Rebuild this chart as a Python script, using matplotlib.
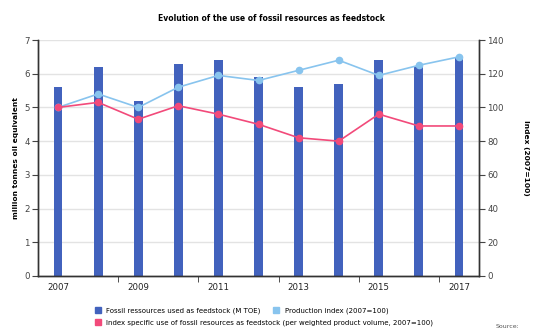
import matplotlib.pyplot as plt
import matplotlib.ticker as mticker
from matplotlib.lines import Line2D
import numpy as np

years = [2007, 2008, 2009, 2010, 2011, 2012, 2013, 2014, 2015, 2016, 2017]
feedstock_mtoe = [5.6, 6.2, 5.2, 6.3, 6.4, 5.9, 5.6, 5.7, 6.4, 6.2, 6.5]
production_index = [100, 108, 100, 112, 119, 116, 122, 128, 119, 125, 130]
specific_index = [100, 103, 93, 101, 96, 90, 82, 80, 96, 89, 89]

BAR_COLOR = "#4262bd"
PROD_COLOR = "#88c4ee"
SPEC_COLOR = "#f24a7a"
AXIS_COLOR = "#333333"

plt.rcParams["font.family"] = ["DejaVu Sans"]

fig = plt.figure(figsize=(5.42, 3.29), dpi=100)
ax = fig.add_axes([0.0701, 0.1611, 0.8137, 0.7173])
ax2 = ax.twinx()

x = np.arange(len(years))
ax.bar(x, feedstock_mtoe, width=0.22, color=BAR_COLOR, zorder=2)
ax.set_xlim(-0.5, len(years) - 0.5)
ax.set_ylim(0, 7)
ax.yaxis.set_major_locator(mticker.MultipleLocator(1))
ax.grid(axis="y", color="#e3e3e3", linewidth=1, zorder=0)
ax.set_axisbelow(True)

ax2.plot(x, production_index, color=PROD_COLOR, lw=1.2, marker="o", ms=4.5, zorder=3)
ax2.plot(x, specific_index, color=SPEC_COLOR, lw=1.2, marker="o", ms=4.5, zorder=4)
ax2.set_ylim(0, 140)
ax2.yaxis.set_major_locator(mticker.MultipleLocator(20))

ax.set_xticks(x[::2])
ax.set_xticklabels([str(y) for y in years[::2]])
ax.set_xticks(np.arange(1.5, len(years) - 1, 2), minor=True)
ax.tick_params(axis="x", which="major", length=0, pad=5, labelsize=6.2, colors="#222222")
ax.tick_params(axis="x", which="minor", length=4, color=AXIS_COLOR, direction="out")
ax.tick_params(axis="y", length=4, width=0.8, pad=2, labelsize=6.2, colors="#444444")
ax2.tick_params(axis="y", length=4, width=0.8, pad=2, labelsize=6.2, colors="#444444")

for a in (ax, ax2):
    a.spines["top"].set_visible(False)
    for s in ("left", "right", "bottom"):
        a.spines[s].set_color(AXIS_COLOR)
        a.spines[s].set_linewidth(1)

ax.set_ylabel("million tonnes oil equivalent", fontsize=5.4, fontweight="bold", labelpad=4)
ax2.set_ylabel("Index (2007=100)", fontsize=5.4, fontweight="bold", rotation=-90, labelpad=18)

fig.text(0.5, 0.945, "Evolution of the use of fossil resources as feedstock",
         ha="center", va="center", fontsize=5.5, fontweight="bold")

def sq(color):
    return Line2D([], [], ls="none", marker="s", ms=5, color=color)

fig.legend([sq(BAR_COLOR), sq(PROD_COLOR)],
           ["Fossil ressources used as feedstock (M TOE)", "Production index (2007=100)"],
           loc="center left", bbox_to_anchor=(0.175, 0.055), ncol=2, frameon=False,
           fontsize=5.0, handlelength=0.8, handletextpad=0.8, columnspacing=1.9,
           borderpad=0, borderaxespad=0)
fig.legend([sq(SPEC_COLOR)],
           ["Index specific use of fossil resources as feedstock (per weighted product volume, 2007=100)"],
           loc="center left", bbox_to_anchor=(0.175, 0.018), frameon=False,
           fontsize=5.0, handlelength=0.8, handletextpad=0.8, borderpad=0, borderaxespad=0)

fig.text(0.915, 0.0, "Source:", fontsize=4.5, color="#555555", ha="left", va="bottom")

fig.savefig("out.png", dpi=100)
